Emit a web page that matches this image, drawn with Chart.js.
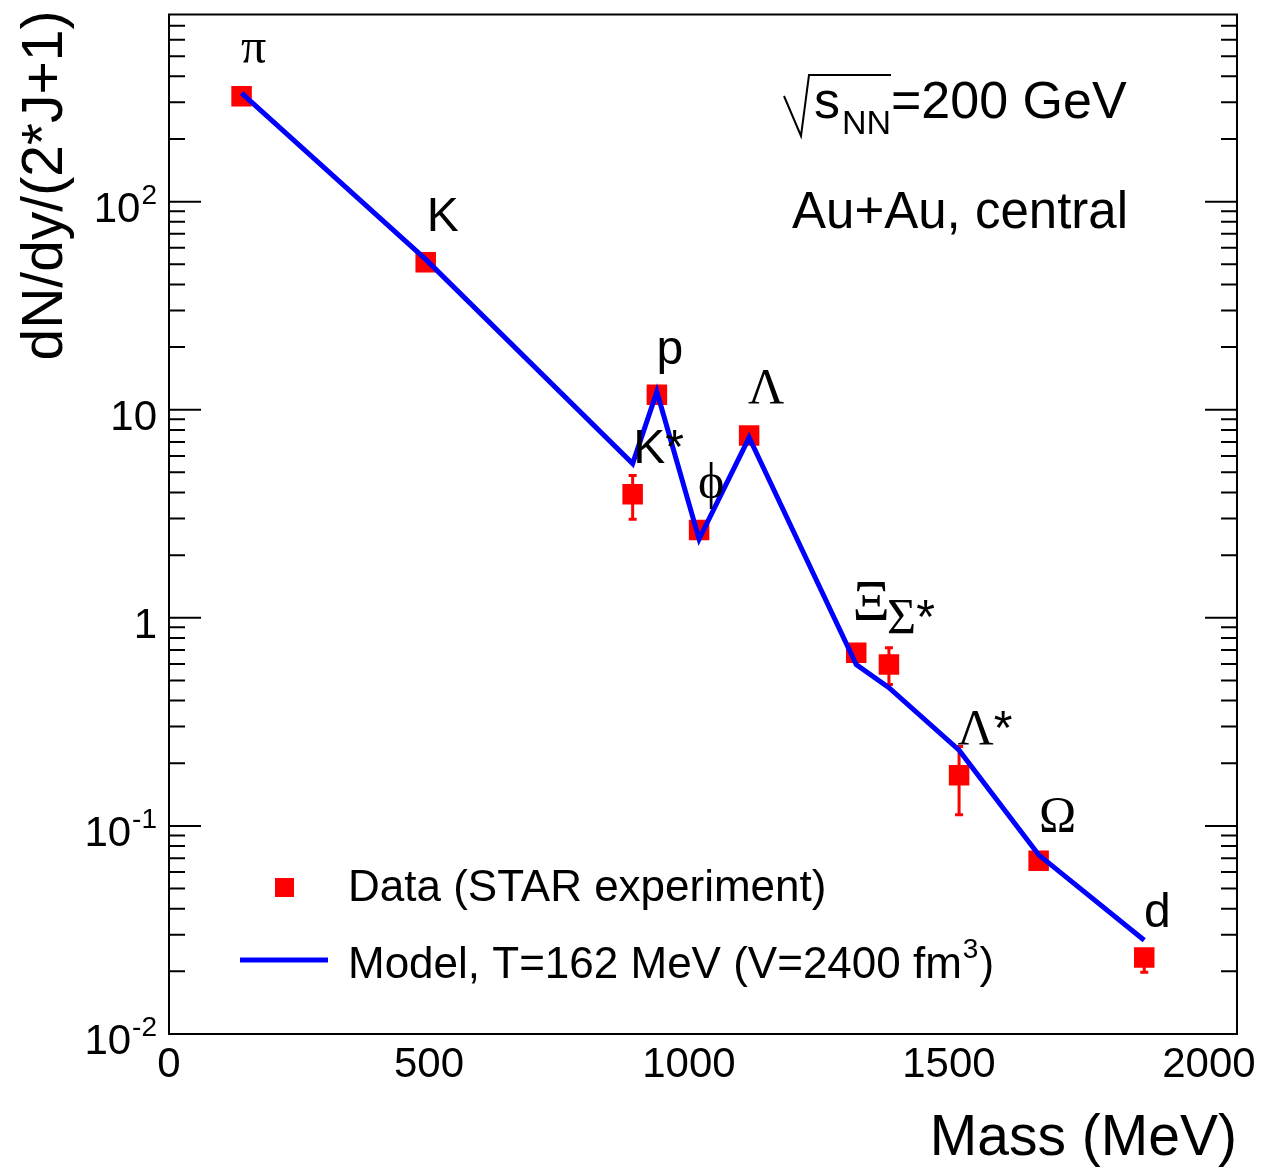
<!DOCTYPE html>
<html>
<head>
<meta charset="utf-8">
<title>Hadron yields vs mass</title>
<script src="https://cdn.jsdelivr.net/npm/chart.js@4.4.1/dist/chart.umd.min.js"></script>
<style>
    html, body { margin: 0; padding: 0; background: #fff; }
    #wrap { width: 1265px; height: 1167px; position: relative; }
</style>
</head>
<body>
<div id="wrap"><canvas id="yieldChart"></canvas></div>
<script>
// particle names and masses (MeV)
const particles = ['π', 'K', 'K*', 'p', 'ϕ', 'Λ', 'Ξ', 'Σ*', 'Λ*', 'Ω', 'd'];
const masses = [139.6, 493.7, 891.7, 938.3, 1019.5, 1115.7, 1321.7, 1384.6, 1519.5, 1672.5, 1875.6];

// STAR data, dN/dy/(2J+1), and error bar ends (null = hidden by marker)
const dataYield = [321, 51.1, 3.92, 11.8, 2.64, 7.52, 0.68, 0.596, 0.175, 0.068, 0.0233];
const dataErrLow = [null, null, 2.98, null, null, null, null, 0.478, 0.113, null, 0.0198];
const dataErrHigh = [null, null, 4.83, null, null, null, null, 0.718, 0.241, null, 0.0255];

// thermal model, T=162 MeV
const modelYield = [332, 52.8, 5.51, 12.2, 2.39, 7.35, 0.596, 0.462, 0.231, 0.0726, 0.0282];

// axes
const xTicks = [0, 500, 1000, 1500, 2000];
const yDecades = [0.01, 0.1, 1, 10, 100];
const yDecadeLabels = [['10', '-2'], ['10', '-1'], ['1', ''], ['10', ''], ['10', '2']];

const SANS = "'Liberation Sans', Arial, sans-serif";
const SERIF = "'Liberation Serif', 'DejaVu Serif', 'Times New Roman', serif";
const RED = '#ff0000';
const BLUE = '#0000ff';

// label offsets from each data marker (px): [dx of label centre, dy of baseline]
const labelOffsets = [[12, -33], [17, -31], [26, -31], [13, -31], [12, -32], [17, -32],
    [15, -33], [22, -32], [26, -31], [19, -30], [13, -31]];

const Plot = {
    // split "Λ*" into greek (serif) + asterisk (sans) runs
    labelRuns: (name) => {
        const runs = [];
        for (const ch of name) {
            let font = '48px ' + SANS;
            if (ch === 'Ξ') font = '58px ' + SERIF;   // Xi comes out small, bump it up
            else if (/[\u0370-\u03FF]/.test(ch)) font = '50px ' + SERIF;
            runs.push({ t: ch, font });
        }
        return runs;
    },

    drawRuns: (ctx, runs, cx, baseline) => {
        let total = 0;
        runs.forEach(r => { ctx.font = r.font; r.w = ctx.measureText(r.t).width; total += r.w; });
        let x = cx - total / 2;
        ctx.textAlign = 'left';
        runs.forEach(r => { ctx.font = r.font; ctx.fillText(r.t, x, baseline); x += r.w; });
    },

    errorBars: (chart) => {
        const ctx = chart.ctx;
        const xs = chart.scales.x, ys = chart.scales.y;
        ctx.save();
        ctx.strokeStyle = RED;
        ctx.lineWidth = 3;
        masses.forEach((m, i) => {
            if (dataErrLow[i] === null) return;
            const x = xs.getPixelForValue(m);
            const lo = ys.getPixelForValue(dataErrLow[i]);
            const hi = ys.getPixelForValue(dataErrHigh[i]);
            ctx.beginPath();
            ctx.moveTo(x, lo); ctx.lineTo(x, hi);
            ctx.moveTo(x - 4, lo); ctx.lineTo(x + 4, lo);
            ctx.moveTo(x - 4, hi); ctx.lineTo(x + 4, hi);
            ctx.stroke();
        });
        ctx.restore();
    },

    axes: (chart) => {
        const ctx = chart.ctx;
        const area = chart.chartArea;
        const xs = chart.scales.x, ys = chart.scales.y;
        ctx.save();
        ctx.strokeStyle = '#000';
        ctx.fillStyle = '#000';
        ctx.lineWidth = 2;
        ctx.strokeRect(area.left, area.top, area.right - area.left, area.bottom - area.top);

        // log ticks on both vertical sides, pointing inward
        ctx.beginPath();
        [...yDecades, 1000].forEach(dec => {
            for (let k = 1; k <= 9; k++) {
                const v = dec * k;
                if (v < ys.min || v > ys.max) continue;
                const y = ys.getPixelForValue(v);
                const len = k === 1 ? 32 : 16;
                ctx.moveTo(area.left, y); ctx.lineTo(area.left + len, y);
                ctx.moveTo(area.right, y); ctx.lineTo(area.right - len, y);
            }
        });
        ctx.stroke();

        // y labels with superscript exponents
        ctx.textAlign = 'right';
        ctx.textBaseline = 'alphabetic';
        yDecades.forEach((v, i) => {
            const y = ys.getPixelForValue(v);
            const [base, exp] = yDecadeLabels[i];
            let right = area.left - 12;
            if (exp) {
                ctx.font = '28px ' + SANS;
                ctx.fillText(exp, right, y + 2);
                right -= ctx.measureText(exp).width + 1;
            }
            ctx.font = '42px ' + SANS;
            ctx.fillText(base, right, y + 20);
        });

        // x labels
        ctx.textAlign = 'center';
        ctx.font = '42px ' + SANS;
        xTicks.forEach(v => {
            ctx.fillText(String(v), xs.getPixelForValue(v), area.bottom + 43);
        });

        // axis titles
        ctx.font = '57px ' + SANS;
        ctx.textAlign = 'right';
        ctx.fillText('Mass (MeV)', area.right, area.bottom + 121);
        ctx.save();
        ctx.translate(62, area.top - 4);
        ctx.rotate(-Math.PI / 2);
        ctx.fillText('dN/dy/(2*J+1)', 0, 0);
        ctx.restore();
        ctx.restore();
    },

    annotations: (chart) => {
        const ctx = chart.ctx;
        const meta = chart.getDatasetMeta(1);
        ctx.save();
        ctx.fillStyle = '#000';
        ctx.textBaseline = 'alphabetic';

        // particle names above markers
        particles.forEach((name, i) => {
            const pt = meta.data[i];
            const [dx, dy] = labelOffsets[i];
            Plot.drawRuns(ctx, Plot.labelRuns(name), pt.x + dx, pt.y + dy);
        });

        // sqrt(s_NN) = 200 GeV
        ctx.strokeStyle = '#000';
        ctx.lineWidth = 2;
        ctx.beginPath();
        ctx.moveTo(784, 96);
        ctx.lineTo(801, 136);
        ctx.lineTo(809, 75);
        ctx.lineTo(891, 75);
        ctx.stroke();
        ctx.textAlign = 'left';
        ctx.font = '52px ' + SANS;
        ctx.fillText('s', 814, 118);
        ctx.font = '34px ' + SANS;
        ctx.fillText('NN', 842, 134);
        ctx.font = '52px ' + SANS;
        ctx.fillText('=200 GeV', 891, 118);
        ctx.font = '51px ' + SANS;
        ctx.textAlign = 'right';
        ctx.fillText('Au+Au, central', 1128, 228);
        ctx.restore();
    },

    legend: (chart) => {
        const ctx = chart.ctx;
        const model = chart.data.datasets[0];
        const data = chart.data.datasets[1];
        ctx.save();
        ctx.fillStyle = data.backgroundColor;
        ctx.fillRect(275, 878, 19, 19);
        ctx.strokeStyle = model.borderColor;
        ctx.lineWidth = 5;
        ctx.beginPath();
        ctx.moveTo(240, 960); ctx.lineTo(328, 960);
        ctx.stroke();

        ctx.fillStyle = '#000';
        ctx.textAlign = 'left';
        ctx.textBaseline = 'alphabetic';
        ctx.font = '44px ' + SANS;
        ctx.fillText(data.label, 348, 901);
        const main = 'Model, T=162 MeV (V=2400 fm';
        ctx.fillText(main, 348, 978);
        let x = 348 + ctx.measureText(main).width + 1;
        ctx.font = '28px ' + SANS;
        ctx.fillText('3', x, 958);
        x += ctx.measureText('3').width + 1;
        ctx.font = '44px ' + SANS;
        ctx.fillText(')', x, 978);
        ctx.restore();
    }
};

const rootStyle = {
    id: 'rootStyle',
    beforeDatasetsDraw: (chart) => Plot.errorBars(chart),
    afterDatasetsDraw: (chart) => {
        Plot.axes(chart);
        Plot.annotations(chart);
        Plot.legend(chart);
    }
};

document.addEventListener('DOMContentLoaded', () => {
    const ctx = document.getElementById('yieldChart').getContext('2d');
    new Chart(ctx, {
        type: 'scatter',
        data: {
            datasets: [
                {
                    label: 'Model, T=162 MeV (V=2400 fm3)',
                    data: masses.map((m, i) => ({ x: m, y: modelYield[i] })),
                    showLine: true,
                    borderColor: BLUE,
                    borderWidth: 5,
                    pointRadius: 0,
                    tension: 0,
                    order: 0
                },
                {
                    label: 'Data (STAR experiment)',
                    data: masses.map((m, i) => ({ x: m, y: dataYield[i] })),
                    pointStyle: 'rect',
                    pointRadius: 14.5,
                    backgroundColor: RED,
                    borderWidth: 0,
                    order: 1
                }
            ]
        },
        options: {
            responsive: true,
            maintainAspectRatio: false,
            animation: false,
            events: [],
            layout: { padding: { left: 169, top: 10, right: 28, bottom: 133 } },
            scales: {
                x: { type: 'linear', min: 0, max: 2054, display: false },
                y: { type: 'logarithmic', min: 0.01, max: 793, display: false }
            },
            plugins: {
                legend: { display: false },
                tooltip: { enabled: false }
            }
        },
        plugins: [rootStyle]
    });
});
</script>
</body>
</html>
